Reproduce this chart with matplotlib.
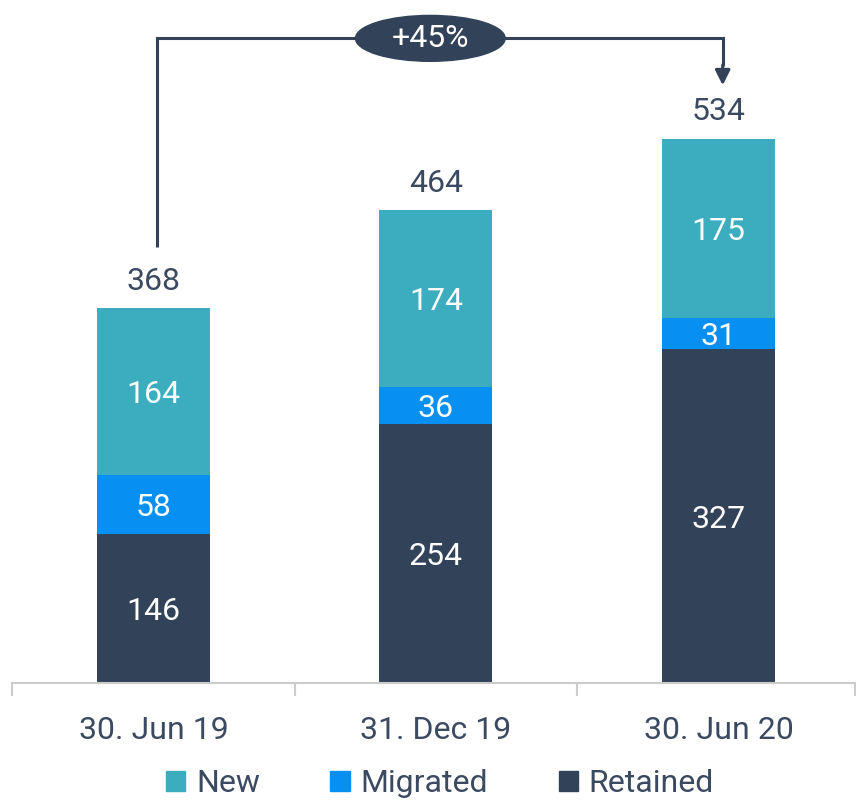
import matplotlib.pyplot as plt
from matplotlib.patches import Ellipse, Patch

plt.rcParams['font.family'] = ['Roboto', 'DejaVu Sans']

dates = ["30. Jun 19", "31. Dec 19", "30. Jun 20"]
retained = [146, 254, 327]
migrated = [58, 36, 31]
new = [164, 174, 175]
totals = [368, 464, 534]  # as printed on the chart (rounded)
growth_label = "+45%"

c_ret = "#324359"
c_mig = "#0790F2"
c_new = "#3BADBF"
c_txt = "#3B4A60"

fig = plt.figure(figsize=(8.56, 8), dpi=100)
ax = fig.add_axes([12 / 856, 117 / 800, 1 - 12 / 856, 683 / 800])

x = list(range(len(dates)))
w = 0.40
ax.bar(x, retained, w, color=c_ret, label="Retained")
ax.bar(x, migrated, w, bottom=retained, color=c_mig, label="Migrated")
base3 = [r + m for r, m in zip(retained, migrated)]
ax.bar(x, new, w, bottom=base3, color=c_new, label="New")

# labels inside the segments and totals on top
dy = -3  # small nudge down, like the original
for i in x:
    ax.text(i, retained[i] / 2 + dy, str(retained[i]), ha='center', va='center',
            color='white', fontsize=23)
    ax.text(i, retained[i] + migrated[i] / 2 + dy, str(migrated[i]), ha='center',
            va='center', color='white', fontsize=23)
    ax.text(i, base3[i] + new[i] / 2 + dy, str(new[i]), ha='center', va='center',
            color='white', fontsize=23)
    ax.text(i, totals[i] + 26, str(totals[i]), ha='center', va='center',
            color=c_txt, fontsize=23)

# growth bracket
xl, xr, ytop = 0.012, 2.015, 632
ax.plot([xl, xl, xr, xr], [totals[0] + 59, ytop, ytop, 605], color=c_ret,
        lw=2.2, solid_capstyle='butt', solid_joinstyle='miter', zorder=3)
ax.annotate('', xy=(xr, 586), xytext=(xr, 606),
            arrowprops=dict(arrowstyle='-|>,head_length=0.9,head_width=0.45',
                            color=c_ret, lw=2.2, shrinkA=0, shrinkB=0))
ax.add_patch(Ellipse((0.98, ytop), 0.53, 45, color=c_ret, zorder=4))
ax.text(0.98, ytop, growth_label, ha='center', va='center', color='white',
        fontsize=23, zorder=5)

ax.set_xlim(-0.501, 2.487)
ax.set_ylim(0, 683 / 1.02)

for s in ['top', 'right', 'left']:
    ax.spines[s].set_visible(False)
ax.spines['bottom'].set_color('#CCCCCC')
ax.spines['bottom'].set_linewidth(1.5)
ax.set_yticks([])

# boundary ticks and centered labels
ax.set_xticks([-0.5, 0.5, 1.5, 2.485])
ax.set_xticklabels([])
ax.tick_params(axis='x', which='major', length=9, width=1.5, color='#CCCCCC')
ax.set_xticks(x, minor=True)
ax.set_xticklabels(dates, minor=True)
ax.tick_params(axis='x', which='minor', length=0, pad=24, labelsize=23,
               labelcolor=c_txt)

handles = [Patch(color=c_new, label="New"),
           Patch(color=c_mig, label="Migrated"),
           Patch(color=c_ret, label="Retained")]
fig.legend(handles=handles, loc='center', bbox_to_anchor=(440 / 856, 1 - 784 / 800),
           ncol=3, frameon=False, fontsize=23, handlelength=0.6,
           handleheight=0.6, handletextpad=0.35, columnspacing=2.2,
           labelcolor=c_txt)

plt.savefig("out.png", dpi=100)
